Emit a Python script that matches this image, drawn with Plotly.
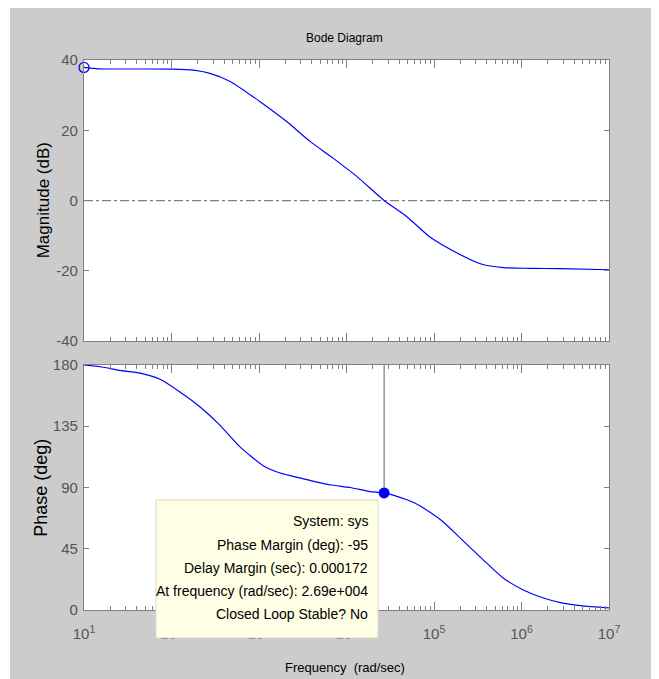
import plotly.graph_objects as go

# ---- data ----
mag_freq = [10, 14.5, 105, 178, 275, 468, 1020, 2090, 3800, 7080, 13200, 26900,
            49000, 89100, 186000, 339000, 617000, 1260000, 2750000, 10000000]
mag_db = [37.9, 37.5, 37.4, 37.1, 36.2, 33.9, 28.2, 22.4, 16.9, 12.0, 6.8, 0.0,
          -4.6, -10.3, -15.0, -18.0, -19.1, -19.3, -19.4, -19.7]

ph_freq = [10, 16, 25.7, 43.7, 74.1, 126, 214, 355, 603, 1120, 1740, 2950, 6460,
           11000, 18600, 26900, 49000, 60300, 89100, 126000, 214000, 363000,
           617000, 1050000, 1780000, 2950000, 5010000, 10000000]
ph_deg = [180, 178.5, 176, 174, 169.5, 160, 149, 136, 120, 106, 100.6, 97, 92,
          90, 87, 86, 81, 78.6, 72, 65, 51, 37, 23.5, 14.7, 8.8, 5, 3, 1.5]

pm_freq = 26900
pm_phase = 86
start_freq = 10
start_mag = 37.9

freq_range = [10, 10000000]
mag_ticks = [-40, -20, 0, 20, 40]
mag_ticktext = ["-40", "-20", "0", "20", "40"]
ph_ticks = [0, 45, 90, 135, 180]
x_ticks = [10, 100, 1000, 10000, 100000, 1000000, 10000000]
x_ticktext = ["10<sup>1</sup>", "10<sup>2</sup>", "10<sup>3</sup>", "10<sup>4</sup>",
              "10<sup>5</sup>", "10<sup>6</sup>", "10<sup>7</sup>"]

tip_lines = ["System: sys", "Phase Margin (deg): -95", "Delay Margin (sec): 0.000172",
             "At frequency (rad/sec): 2.69e+004", "Closed Loop Stable? No"]

BLUE = "#0000ff"
GRAY = "#808080"
FONT = "Liberation Sans, Arial, sans-serif"

fig = go.Figure()
# magnitude
fig.add_trace(go.Scatter(x=freq_range, y=[0, 0], mode="lines", xaxis="x2", yaxis="y2",
                         line=dict(color=GRAY, width=1.3, dash="dashdot"), hoverinfo="skip"))
fig.add_trace(go.Scatter(x=mag_freq, y=mag_db, mode="lines", xaxis="x2", yaxis="y2",
                         line=dict(color=BLUE, width=1.2, shape="spline", smoothing=0.6)))
fig.add_trace(go.Scatter(x=[start_freq], y=[start_mag], mode="markers", xaxis="x2", yaxis="y2",
                         marker=dict(symbol="circle-open", size=10, color=BLUE, line=dict(width=1.3)),
                         cliponaxis=False))
# phase
fig.add_trace(go.Scatter(x=[pm_freq, pm_freq], y=[pm_phase, 180], mode="lines",
                         line=dict(color="#606060", width=1), hoverinfo="skip"))
fig.add_trace(go.Scatter(x=ph_freq, y=ph_deg, mode="lines",
                         line=dict(color=BLUE, width=1.2, shape="spline", smoothing=0.6)))
fig.add_trace(go.Scatter(x=[pm_freq], y=[pm_phase], mode="markers",
                         marker=dict(symbol="circle", size=11, color=BLUE)))

axis_common = dict(showline=True, linecolor=GRAY, linewidth=1.2, mirror="allticks",
                   ticks="inside", tickcolor=GRAY, showgrid=False, zeroline=False)
xcommon = dict(type="log", range=[1, 7], tickvals=x_ticks, ticktext=x_ticktext, ticklen=8,
               minor=dict(ticks="inside", ticklen=4, dtick="D1", tickcolor=GRAY, showgrid=False),
               **axis_common)
tickfont_y = dict(family=FONT, size=15, color="#555555")

fig.update_layout(
    width=644, height=671,
    margin=dict(l=76, r=43, t=52, b=69),
    paper_bgcolor="#cccccc", plot_bgcolor="white",
    showlegend=False,
    xaxis=dict(domain=[0, 1], anchor="y",
               tickfont=dict(family=FONT, size=15, color="#555555"), ticklabelstandoff=10,
               **xcommon),
    yaxis=dict(domain=[0, 0.4455], anchor="x", range=[0, 180], tickvals=ph_ticks, ticklen=5,
               tickfont=tickfont_y, ticklabelstandoff=2, **axis_common),
    xaxis2=dict(domain=[0, 1], anchor="y2", matches="x", showticklabels=False, **xcommon),
    yaxis2=dict(domain=[0.489, 1], anchor="x2", range=[-40, 40], tickvals=mag_ticks,
                ticktext=mag_ticktext, ticklen=5, tickfont=tickfont_y, ticklabelstandoff=2,
                **axis_common),
)

# thin white strip at the left edge
fig.add_shape(type="rect", xref="paper", yref="paper", x0=-0.2, x1=-0.1410, y0=-0.2, y1=1.2,
              fillcolor="white", line=dict(width=0), layer="below")

# tooltip box
fig.add_shape(type="rect", xref="paper", yref="paper", x0=0.137, x1=0.56, y0=-0.0509, y1=0.2,
              fillcolor="#ffffe6", line=dict(color="#d8d8c8", width=1), layer="above")
tip_y = [0.162, 0.118, 0.0764, 0.0345, -0.0073]
for t, yy in zip(tip_lines, tip_y):
    fig.add_annotation(text=t, xref="paper", yref="paper", x=0.545, y=yy, xanchor="right",
                       yanchor="middle", showarrow=False,
                       font=dict(family=FONT, size=14, color="black"))

# titles
fig.add_annotation(text="Bode Diagram", xref="paper", yref="paper", x=0.497, y=1.04,
                   xanchor="center", yanchor="middle", showarrow=False,
                   font=dict(family=FONT, size=12, color="black"))
fig.add_annotation(text="Magnitude (dB)", xref="paper", yref="paper", x=-0.078, y=0.745,
                   xanchor="center", yanchor="middle", textangle=-90, showarrow=False,
                   font=dict(family=FONT, size=17, color="black"))
fig.add_annotation(text="Phase (deg)", xref="paper", yref="paper", x=-0.082, y=0.222,
                   xanchor="center", yanchor="middle", textangle=-90, showarrow=False,
                   font=dict(family=FONT, size=18, color="black"))
fig.add_annotation(text="Frequency\u00a0 (rad/sec)", xref="paper", yref="paper", x=0.497, y=-0.105,
                   xanchor="center", yanchor="middle", showarrow=False,
                   font=dict(family=FONT, size=13, color="black"))

fig.write_html("out.html")
